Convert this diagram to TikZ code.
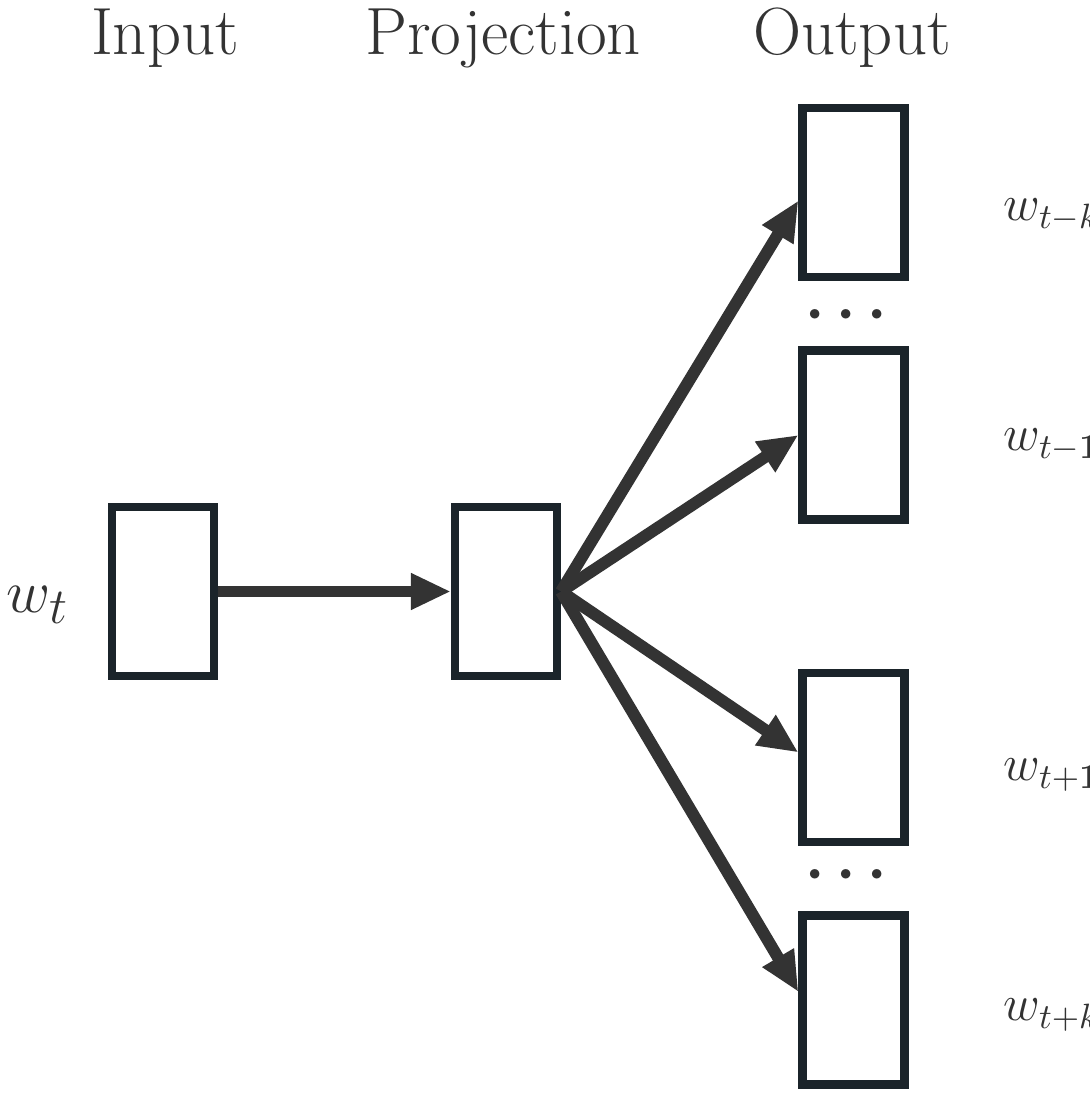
\documentclass[tikz,border=0pt]{standalone}
\usepackage{amsmath}
\usepackage{tikz}
\usetikzlibrary{arrows.meta}

\definecolor{boxline}{HTML}{1B242A}
\definecolor{arrowgray}{HTML}{333333}

\begin{document}
\begin{tikzpicture}
	\tikzstyle{every node}=[font=\fontsize{19}{22}\selectfont, text=arrowgray]
	\tikzstyle{unit}=[draw=boxline, line width=2.3pt, minimum width=1.02cm, minimum height=1.69cm, inner sep=0pt]
	\tikzstyle{link}=[draw=arrowgray, line width=3.4pt, -{Triangle[length=0.4cm,width=0.34cm]}]
	\tikzstyle{word}=[font=\fontsize{14.4}{17}\selectfont, anchor=west, inner sep=0pt]
	\useasboundingbox (0,0) rectangle (10.9,11.1);
		% boxes
		\node [unit] (input) at (1.63,5.185) {};
		\node [unit] (proj) at (5.06,5.185) {};
		\node [unit] (outa) at (8.535,9.175) {};
		\node [unit] (outb) at (8.535,6.75) {};
		\node [unit] (outc) at (8.535,3.525) {};
		\node [unit] (outd) at (8.535,1.10) {};
		% headings
		\node (hin) at (1.65,10.72) {Input};
		\node (hproj) at (5.03,10.72) {Projection};
		\node (hout) at (8.52,10.72) {Output};
		% word labels
		\node (wt) at (0.38,5.05) {$w_t$};
		\node [word] (wa) at (10.03,8.95) {$w_{t-k}$};
		\node [word] (wb) at (10.03,6.65) {$w_{t-\mathbf{1}}$};
		\node [word] (wc) at (10.03,3.35) {$w_{t+\mathbf{1}}$};
		\node [word] (wd) at (10.03,0.95) {$w_{t+k}$};
		\node (dotsa) at (8.52,7.95) {$\boldsymbol{\cdots}$};
		\node (dotsb) at (8.52,2.35) {$\boldsymbol{\cdots}$};
		% arrows
		\draw [link] (input.east) -- (proj.west);
		\draw [link] (proj.east) -- ([yshift=-0.08cm]outa.west);
		\draw [link] (proj.east) -- (outb.west);
		\draw [link] (proj.east) -- ([yshift=0.05cm]outc.west);
		\draw [link] (proj.east) -- ([yshift=0.08cm]outd.west);
\end{tikzpicture}
\end{document}
